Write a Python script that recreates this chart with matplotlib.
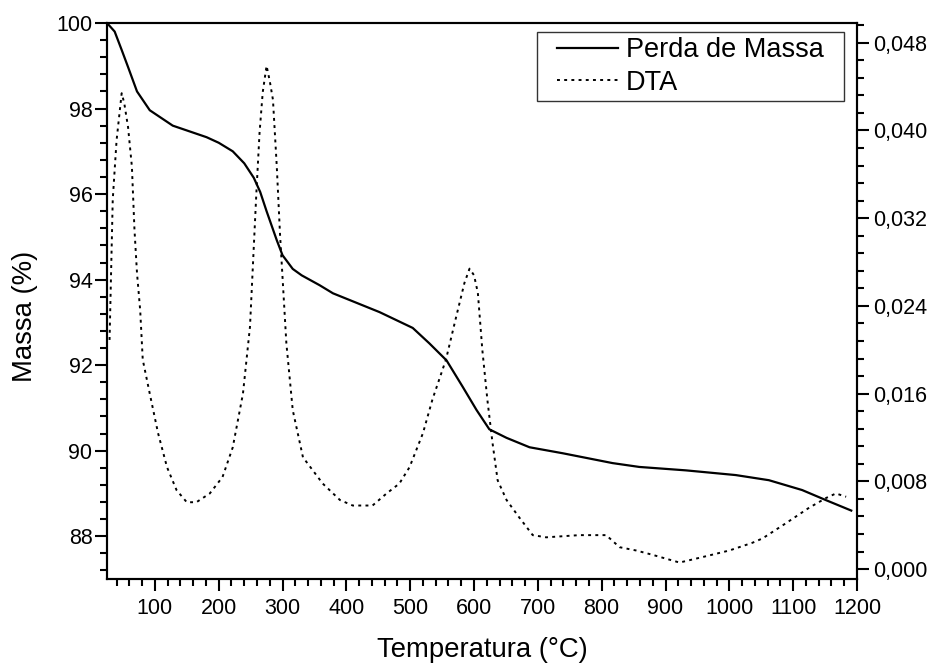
import matplotlib
matplotlib.use("Agg")
import matplotlib.pyplot as plt
from matplotlib.ticker import MultipleLocator, FuncFormatter
from matplotlib.patches import Rectangle

plt.rcParams['font.family'] = ['Liberation Sans', 'DejaVu Sans']

# Mass loss curve (TG)
temp_mass = [25, 37, 48, 58, 72, 92, 128, 181, 200, 222, 240, 255, 265, 275, 291, 300, 316, 330,
             358, 379, 452, 504, 530, 557, 582, 604, 624, 651, 687, 739, 817, 859, 932,
             1010, 1062, 1114, 1152, 1191]
massa = [100.0, 99.8, 99.37, 98.97, 98.4, 97.96, 97.6, 97.33, 97.2, 97.0, 96.72, 96.38, 96.05,
         95.6, 94.92, 94.57, 94.25, 94.1, 93.87, 93.68, 93.24, 92.87, 92.51, 92.11, 91.5, 90.95,
         90.5, 90.3, 90.08, 89.94, 89.71, 89.62, 89.54, 89.43, 89.31, 89.08, 88.84, 88.6]

# DTA curve
temp_dta = [29, 34, 40, 48, 52, 58, 64, 68, 72, 77, 81, 92, 105, 119, 134, 150, 165, 186, 206,
            222, 238, 249, 254, 259, 264, 269, 275, 280, 285, 291, 296, 300, 306, 316, 332,
            363, 390, 410, 441, 463, 483, 499, 520, 535, 556, 572, 585, 593, 600, 606, 613,
            621, 629, 637, 651, 671, 692, 713, 765, 807, 828, 854, 880, 922, 958, 1000, 1036,
            1052, 1089, 1125, 1152, 1167, 1183]
dta = [0.0209, 0.0337, 0.0391, 0.0434, 0.0425, 0.0403, 0.0367, 0.0310, 0.0270, 0.0236, 0.0191,
       0.0160, 0.0124, 0.0093, 0.0072, 0.0061, 0.0061, 0.0069, 0.0084, 0.0111, 0.0160, 0.0221,
       0.0282, 0.0343, 0.0398, 0.0435, 0.0459, 0.0445, 0.0428, 0.0367, 0.0306, 0.0266, 0.0206,
       0.0145, 0.0102, 0.0078, 0.0063, 0.0058, 0.0058, 0.0069, 0.0078, 0.0093, 0.0124, 0.0155,
       0.0191, 0.0230, 0.0261, 0.0274, 0.0268, 0.0252, 0.0200, 0.0154, 0.0115, 0.0081, 0.0063,
       0.0047, 0.0031, 0.0029, 0.0031, 0.0031, 0.0020, 0.0017, 0.0013, 0.0006, 0.0011, 0.0017,
       0.0024, 0.0028, 0.0042, 0.0056, 0.0065, 0.0069, 0.0066]

x_ticks = [100, 200, 300, 400, 500, 600, 700, 800, 900, 1000, 1100, 1200]
left_ticks = [88, 90, 92, 94, 96, 98, 100]
right_ticks = [0.000, 0.008, 0.016, 0.024, 0.032, 0.040, 0.048]

W, H = 933, 663
fig = plt.figure(figsize=(W / 100, H / 100), dpi=100)
ax = fig.add_axes([107 / W, 1 - 579 / H, (857 - 107) / W, (579 - 23) / H])
ax2 = ax.twinx()

l1, = ax.plot(temp_mass, massa, color='black', lw=1.6, label='Perda de Massa')
l2, = ax2.plot(temp_dta, dta, color='black', lw=1.4, linestyle=(0, (1.5, 2.2)), label='DTA')

ax.set_xlim(25, 1200)
ax.set_ylim(87.0, 100.0)
ax2.set_ylim(-0.0009, 0.0498)

ax.set_xticks(x_ticks)
ax.set_yticks(left_ticks)
ax2.set_yticks(right_ticks)
ax.xaxis.set_minor_locator(MultipleLocator(20))
ax.yaxis.set_minor_locator(MultipleLocator(0.4))
ax2.yaxis.set_minor_locator(MultipleLocator(0.0016))
ax2.yaxis.set_major_formatter(FuncFormatter(lambda v, p: f"{v:.3f}".replace('.', ',').replace('-0,000', '0,000')))

for a in (ax, ax2):
    for s in a.spines.values():
        s.set_linewidth(1.5)

ax.tick_params(axis='both', which='major', direction='out', length=8.5, width=1.5, labelsize=15.5)
ax.tick_params(axis='both', which='minor', direction='out', length=5, width=1.5)
ax.tick_params(axis='y', which='major', pad=2)
ax.tick_params(axis='x', which='major', pad=5)
ax.tick_params(top=False, right=False, which='both')
ax2.tick_params(axis='y', which='major', direction='out', length=8.5, width=1.5, labelsize=15.5, pad=3)
ax2.tick_params(axis='y', which='minor', direction='out', length=5, width=1.5)

ax.set_xlabel('Temperatura (°C)', fontsize=19.8)
ax.set_ylabel('Massa (%)', fontsize=19.8)
ax.xaxis.set_label_coords(0.5, -0.104)
ax.yaxis.set_label_coords(-0.092, 0.473)

leg = ax2.legend([l1, l2], ['Perda de Massa', 'DTA'], loc='upper right',
                 bbox_to_anchor=(824 / W, 1 - 37 / H), bbox_transform=fig.transFigure,
                 frameon=False, fontsize=19.5, handlelength=2.25, handletextpad=0.3,
                 labelspacing=0.25, borderpad=0.0, borderaxespad=0.0)

fig.canvas.draw()
bb = leg.get_window_extent()
padx, pady = 20, 5
rect = Rectangle((bb.x0 - padx, bb.y0 - pady), bb.width + 2 * padx, bb.height + 2 * pady,
                 transform=None, fill=False, edgecolor='#333333', lw=1.0, zorder=10)
fig.patches.append(rect)

fig.savefig('out.png', dpi=100)
